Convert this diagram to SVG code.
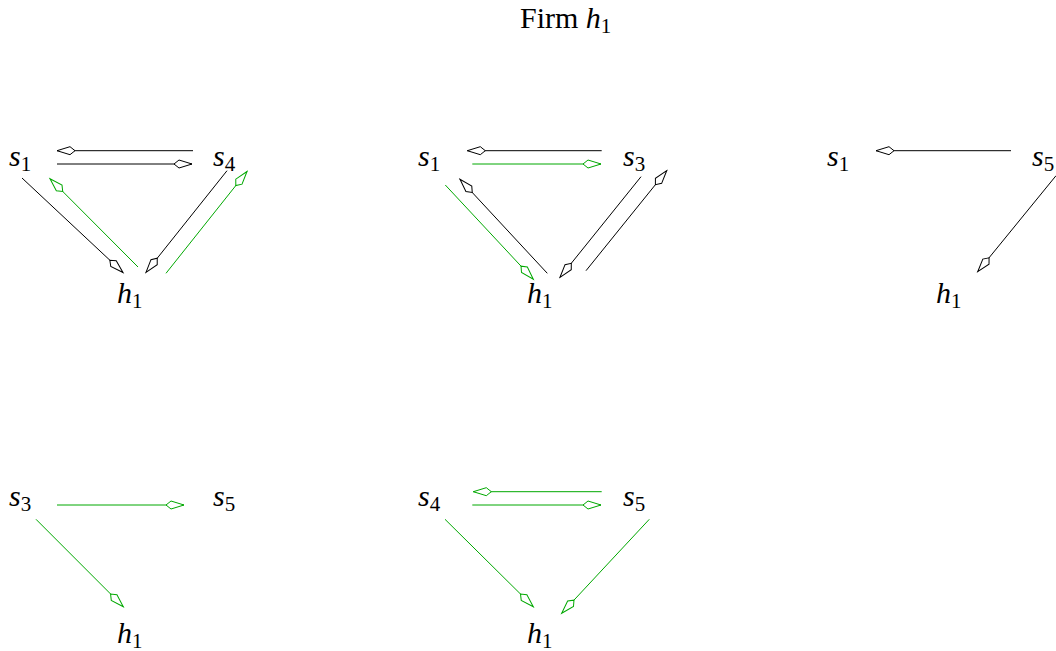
<svg xmlns="http://www.w3.org/2000/svg" width="1056" height="651" viewBox="0 0 1056 651">
<style>
.t{font-family:"Liberation Serif","DejaVu Serif",serif;font-size:30px;fill:#000}
.i{font-style:italic}
.sub{font-size:21px}
.k{stroke:#000;stroke-width:1;fill:none;marker-end:url(#ak)}
.g{stroke:#00a800;stroke-width:1;fill:none;marker-end:url(#ag)}
</style>
<defs>
<marker id="ak" viewBox="-20 -5 22 10" refX="0" refY="0" markerWidth="22" markerHeight="10" markerUnits="userSpaceOnUse" orient="auto">
<path d="M0,0 L-13,-4 L-18,0 L-13,4 Z" fill="#fff" stroke="#000" stroke-width="1"/>
</marker>
<marker id="ag" viewBox="-20 -5 22 10" refX="0" refY="0" markerWidth="22" markerHeight="10" markerUnits="userSpaceOnUse" orient="auto">
<path d="M0,0 L-13,-4 L-18,0 L-13,4 Z" fill="#fff" stroke="#00a800" stroke-width="1"/>
</marker>
</defs>
<text class="t" x="520" y="28">Firm <tspan class="i">h</tspan><tspan class="sub" dy="5">1</tspan></text>

<g id="p1-s1"><text class="t" x="9" y="166"><tspan class="i">s</tspan><tspan class="sub" dy="5">1</tspan></text></g>
<g id="p1-s4"><text class="t" x="213" y="166"><tspan class="i">s</tspan><tspan class="sub" dy="5">4</tspan></text></g>
<g id="p1-h1"><text class="t" x="117" y="303"><tspan class="i">h</tspan><tspan class="sub" dy="5">1</tspan></text></g>

<g id="p2-s1"><text class="t" x="418" y="166"><tspan class="i">s</tspan><tspan class="sub" dy="5">1</tspan></text></g>
<g id="p2-s3"><text class="t" x="623" y="166"><tspan class="i">s</tspan><tspan class="sub" dy="5">3</tspan></text></g>
<g id="p2-h1"><text class="t" x="527" y="303"><tspan class="i">h</tspan><tspan class="sub" dy="5">1</tspan></text></g>

<g id="p3-s1"><text class="t" x="827" y="166"><tspan class="i">s</tspan><tspan class="sub" dy="5">1</tspan></text></g>
<g id="p3-s5"><text class="t" x="1032" y="166"><tspan class="i">s</tspan><tspan class="sub" dy="5">5</tspan></text></g>
<g id="p3-h1"><text class="t" x="936" y="303"><tspan class="i">h</tspan><tspan class="sub" dy="5">1</tspan></text></g>

<g id="p4-s3"><text class="t" x="9" y="506"><tspan class="i">s</tspan><tspan class="sub" dy="5">3</tspan></text></g>
<g id="p4-s5"><text class="t" x="213" y="506"><tspan class="i">s</tspan><tspan class="sub" dy="5">5</tspan></text></g>
<g id="p4-h1"><text class="t" x="117" y="643"><tspan class="i">h</tspan><tspan class="sub" dy="5">1</tspan></text></g>

<g id="p5-s4"><text class="t" x="418" y="506"><tspan class="i">s</tspan><tspan class="sub" dy="5">4</tspan></text></g>
<g id="p5-s5"><text class="t" x="623" y="506"><tspan class="i">s</tspan><tspan class="sub" dy="5">5</tspan></text></g>
<g id="p5-h1"><text class="t" x="527" y="643"><tspan class="i">h</tspan><tspan class="sub" dy="5">1</tspan></text></g>

<g id="connectors">
<line class="k" x1="193" y1="150.7" x2="57" y2="150.7"/>
<line class="k" x1="57" y1="164" x2="192" y2="164"/>
<line class="k" x1="22" y1="178" x2="123" y2="272.5"/>
<line class="g" x1="138" y1="267" x2="50" y2="178.7"/>
<line class="k" x1="227" y1="170.7" x2="146" y2="272.3"/>
<line class="g" x1="166" y1="273.3" x2="247" y2="171.5"/>

<line class="k" x1="601.7" y1="150.7" x2="467.3" y2="150.7"/>
<line class="g" x1="472.3" y1="164" x2="601" y2="164"/>
<line class="g" x1="445.3" y1="185" x2="533.3" y2="279.3"/>
<line class="k" x1="547.3" y1="273.3" x2="460" y2="179.3"/>
<line class="k" x1="641" y1="176.7" x2="560" y2="277.3"/>
<line class="k" x1="586" y1="270.7" x2="666.7" y2="170.7"/>

<line class="k" x1="1011" y1="150.7" x2="876" y2="150.7"/>
<line class="k" x1="1056" y1="175.7" x2="977.7" y2="271.7"/>

<line class="g" x1="57" y1="505" x2="184" y2="505"/>
<line class="g" x1="36" y1="519.3" x2="123.3" y2="606.7"/>

<line class="g" x1="601.7" y1="491.7" x2="473.3" y2="491.7"/>
<line class="g" x1="472.3" y1="505" x2="601" y2="505"/>
<line class="g" x1="445" y1="519.3" x2="533.3" y2="606.7"/>
<line class="g" x1="649.3" y1="519.3" x2="561.7" y2="613.3"/>
</g>
</svg>
